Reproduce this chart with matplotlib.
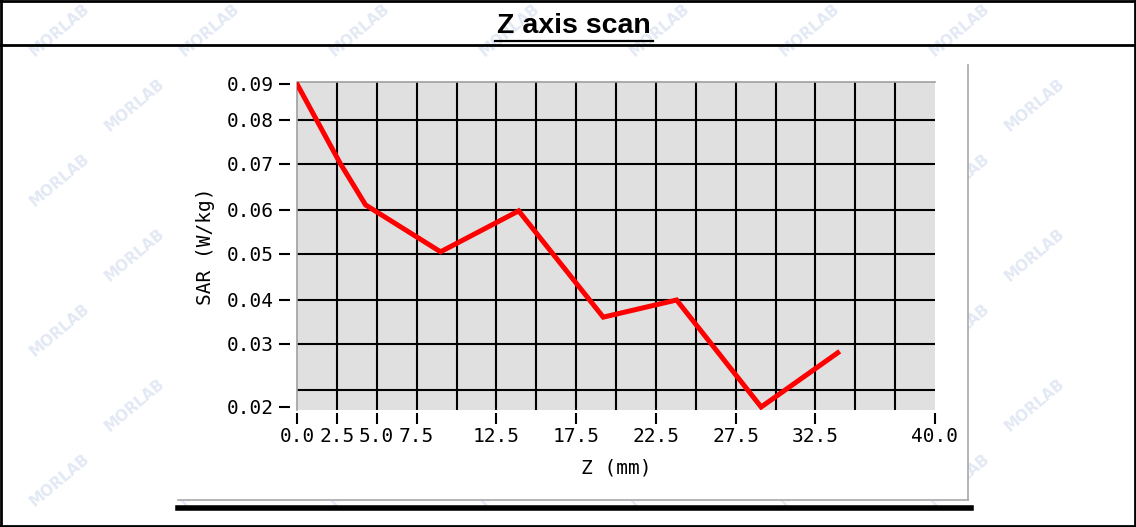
import numpy as np
import matplotlib
matplotlib.use("Agg")
import matplotlib.pyplot as plt
from matplotlib.lines import Line2D
from matplotlib.patches import Rectangle

# z scan values
z_mm = [0.0, 2.7, 4.3, 9.0, 13.9, 19.2, 23.8, 29.1, 33.9]
sar = [0.0900, 0.0702, 0.0611, 0.0505, 0.0598, 0.0361, 0.0400, 0.0200, 0.0286]

x_ticks = [0.0, 2.5, 5.0, 7.5, 12.5, 17.5, 22.5, 27.5, 32.5, 40.0]
y_ticks = [0.02, 0.03, 0.04, 0.05, 0.06, 0.07, 0.08, 0.09]
x_grid = np.arange(2.5, 40.0, 2.5)
y_grid = [0.0227, 0.03, 0.04, 0.05, 0.06, 0.07, 0.08]

# the SAR axis of the original is not linear: positions of the labels (pixels)
scale_vals = np.array([0.0195, 0.02, 0.03, 0.04, 0.05, 0.06, 0.07, 0.08, 0.09, 0.0906])
scale_pix = np.array([410, 407, 344, 300, 254, 210, 164, 120, 84, 82], dtype=float)


def fwd(v):
    return -np.interp(v, scale_vals, scale_pix)


def inv(p):
    return np.interp(-np.asarray(p), scale_pix[::-1] * -1, scale_vals[::-1])


W, H = 1136, 527
fig = plt.figure(figsize=(W / 100, H / 100), dpi=100)
fig.patch.set_facecolor("white")

# faint watermark, kept inside the page
for row, yy in enumerate(range(30, 520, 75)):
    off = 0 if row % 2 == 0 else 75
    for xx in range(60 + off, 1100, 150):
        fig.text(xx / W, 1 - yy / H, "MORLAB", rotation=40, color="#e3e9f4",
                 fontsize=11, fontweight="bold", ha="center", va="center", zorder=-2)

# the chart picture itself is opaque white
fig.add_artist(Rectangle((178 / W, 1 - 500 / H), 790 / W, 438 / H, facecolor="white",
                         edgecolor="none", zorder=-1, transform=fig.transFigure))

# table borders
def fig_line(x0, y0, x1, y1, lw, color="black"):
    fig.add_artist(Line2D([x0 / W, x1 / W], [1 - y0 / H, 1 - y1 / H], lw=lw, color=color))

fig_line(1, 1, 1135, 1, 2)
fig_line(1, 1, 1, 526, 2)
fig_line(1135, 1, 1135, 526, 2)
fig_line(1, 526, 1135, 526, 2)
fig_line(1, 45, 1135, 45, 2)

fig.text(574 / W, 1 - 26 / H, "Z axis scan", ha="center", va="center",
         fontsize=20.5, fontweight="bold", family="Liberation Sans")
fig_line(495, 40.5, 653, 40.5, 1.6)

# image frame of the chart
fig_line(968, 65, 968, 500, 1.2, "#a8a8a8")
fig_line(178, 500, 968, 500, 1.2, "#a8a8a8")
fig_line(178, 507.5, 971, 507.5, 4)

ax = fig.add_axes([297 / W, 1 - 410 / H, 638 / W, 328 / H])
ax.set_facecolor("#e0e0e0")
ax.set_yscale("function", functions=(fwd, inv))
ax.set_xlim(0, 40)
ax.set_ylim(0.0195, 0.0906)

ax.vlines(x_grid, 0.0195, 0.0906, color="black", lw=1.5, zorder=1)
ax.hlines(y_grid, 0, 40, color="black", lw=1.5, zorder=1)
ax.plot(z_mm, sar, color="red", lw=3.6, zorder=3, solid_joinstyle="miter")

# plot area edges
ax.plot([0, 0, 1], [0, 1, 1], transform=ax.transAxes, color="#a0a0a0", lw=1.2, clip_on=False)

for s in ["top", "right"]:
    ax.spines[s].set_visible(False)
ax.spines["left"].set_position(("outward", 5))
ax.spines["bottom"].set_position(("outward", 2))
ax.spines["left"].set_color("none")
ax.spines["bottom"].set_color("none")

mono = "DejaVu Sans Mono"
ax.set_xticks(x_ticks)
ax.set_xticklabels(["%.1f" % v for v in x_ticks], family=mono, fontsize=14)
ax.set_yticks(y_ticks)
ax.set_yticklabels(["%.2f" % v for v in y_ticks], family=mono, fontsize=14)
ax.yaxis.set_minor_locator(matplotlib.ticker.NullLocator())
ax.tick_params(axis="both", direction="out", length=8, width=1.5, color="black")
ax.tick_params(axis="x", pad=2)
ax.tick_params(axis="y", pad=4)

ax.set_xlabel("Z (mm)", family=mono, fontsize=14, labelpad=9)
ax.set_ylabel("SAR (W/kg)", family=mono, fontsize=14, labelpad=8)

fig.savefig("out.png", dpi=100)
